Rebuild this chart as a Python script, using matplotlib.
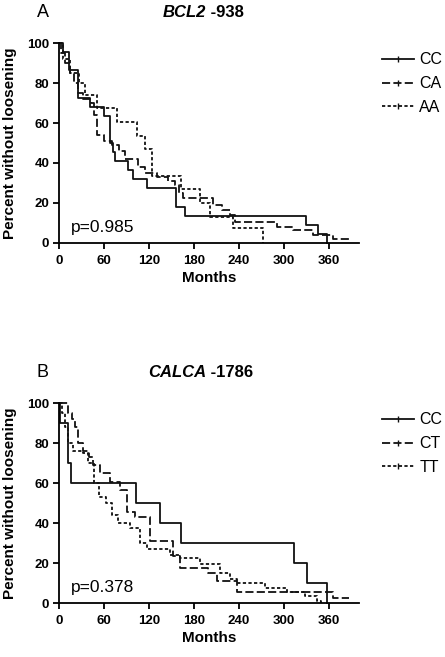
import matplotlib.pyplot as plt
from matplotlib.lines import Line2D

plt.rcParams['font.family'] = ['Liberation Sans', 'DejaVu Sans']

# Panel A: BCL2 -938 (months, percent without loosening)
a_cc_t = [0, 5, 13, 25, 41, 60, 68, 72, 75, 92, 99, 117, 156, 168, 329, 345, 357]
a_cc_s = [100, 95.5, 86.4, 72.7, 68.2, 63.6, 50, 45.5, 40.9, 36.4, 31.8, 27.3, 18.2, 13.6, 9.1, 4.5, 0]
a_ca_t = [0, 3, 8, 15, 20, 25, 32, 42, 46, 50, 60, 70, 80, 88, 105, 115, 130, 145, 155, 160,
          165, 205, 217, 228, 235, 290, 312, 339, 365, 386]
a_ca_s = [100, 95, 90, 85, 80, 75, 72, 70, 64, 54, 51, 49, 46, 42, 38, 35, 33, 31, 29, 25,
          22.7, 19, 16.5, 14, 10.5, 8, 6.5, 4, 2, 2]
a_aa_t = [0, 5, 15, 26, 35, 50, 77, 104, 115, 124, 163, 188, 201, 232, 272]
a_aa_s = [100, 92, 85, 80, 74, 67.5, 60.5, 53.5, 47, 33.5, 27, 20, 13, 7.5, 0]

# Panel B: CALCA -1786
b_cc_t = [0, 1, 12, 16, 102, 135, 163, 313, 330, 357]
b_cc_s = [100, 90, 70, 60, 50, 40, 30, 20, 10, 0]
b_ct_t = [0, 12, 17, 21, 25, 32, 40, 45, 55, 68, 81, 90, 101, 121, 152, 161, 199, 210, 237, 365, 386]
b_ct_s = [100, 95, 92, 88, 80, 76, 73, 69, 65, 60.5, 56.5, 45.5, 43, 31, 23.5, 17.5, 15, 11, 5.5, 2.5, 2.5]
b_tt_t = [0, 4, 8, 12, 18, 32, 39, 46, 53, 63, 70, 79, 95, 108, 117, 148, 161, 188, 215, 228,
          237, 275, 304, 328, 344, 349]
b_tt_s = [100, 95, 88, 80, 76, 75, 70, 60, 53, 50, 44, 40, 37.5, 30, 27, 24, 22.5, 19.5, 15, 12,
          10, 7.5, 5.5, 3.5, 1, 0]

x_ticks = [0, 60, 120, 180, 240, 300, 360]
y_ticks = [0, 20, 40, 60, 80, 100]

styles = [dict(linestyle='-'),
          dict(linestyle=(0, (4.5, 1.8))),
          dict(linestyle=(0, (1.8, 1.3)))]

W, H = 445, 657
fig = plt.figure(figsize=(W / 100, H / 100), dpi=100)


def panel(bottom_px, letter, gene, gene_x, snp, curves, labels, pval):
    ax = fig.add_axes([59 / W, 1 - bottom_px / H, 300 / W, 200 / H])
    for (t, s), st in zip(curves, styles):
        ax.step(t, s, where='post', color='#111111', lw=1.3, clip_on=False, **st)
    ax.set_xlim(0, 400)
    ax.set_ylim(0, 100)
    ax.set_xticks(x_ticks)
    ax.set_yticks(y_ticks)
    for sp in ['top', 'right']:
        ax.spines[sp].set_visible(False)
    for sp in ['left', 'bottom']:
        ax.spines[sp].set_linewidth(1.3)
    ax.tick_params(direction='out', length=4, width=1.3, labelsize=9.5)
    ax.tick_params(axis='x', pad=4.5)
    ax.tick_params(axis='y', pad=3)
    for lab in ax.get_xticklabels() + ax.get_yticklabels():
        lab.set_fontweight('bold')
    ax.text(0.04, 0.04, pval, transform=ax.transAxes, fontsize=12.5, ha='left', va='bottom')

    # legend handles with the small censor tick
    handles = [Line2D([], [], color='#111111', lw=1.3, marker='|', markersize=5, **st)
               for st in styles]
    ax.legend(handles, labels, loc='upper left',
              bbox_to_anchor=(376 / W, 1 - (bottom_px - 197) / H),
              bbox_transform=fig.transFigure, frameon=False, fontsize=11.5, handlelength=2.0,
              handletextpad=0.3, labelspacing=0.55, numpoints=1, borderaxespad=0)

    base = 1 - (bottom_px - 226) / H
    fig.text(37 / W, base, letter, fontsize=13, ha='left', va='baseline')
    t1 = fig.text(gene_x / W, base, gene, fontsize=12, fontweight='bold', fontstyle='italic',
                  ha='left', va='baseline')
    ax.annotate(' ' + snp, xy=(1, 0), xycoords=t1, fontsize=12, fontweight='bold',
                ha='left', va='bottom')
    fig.text(10 / W, 1 - (bottom_px - 100) / H, 'Percent without loosening', rotation=90,
             fontsize=11, fontweight='bold', ha='center', va='center')
    fig.text(209 / W, 1 - (bottom_px + 35) / H, 'Months', fontsize=11, fontweight='bold',
             ha='center', va='center')
    return ax


panel(243, 'A', 'BCL2', 163, '-938',
      [(a_cc_t, a_cc_s), (a_ca_t, a_ca_s), (a_aa_t, a_aa_s)], ['CC', 'CA', 'AA'], 'p=0.985')
panel(603, 'B', 'CALCA', 148, '-1786',
      [(b_cc_t, b_cc_s), (b_ct_t, b_ct_s), (b_tt_t, b_tt_s)], ['CC', 'CT', 'TT'], 'p=0.378')

fig.savefig('out.png', dpi=100)
